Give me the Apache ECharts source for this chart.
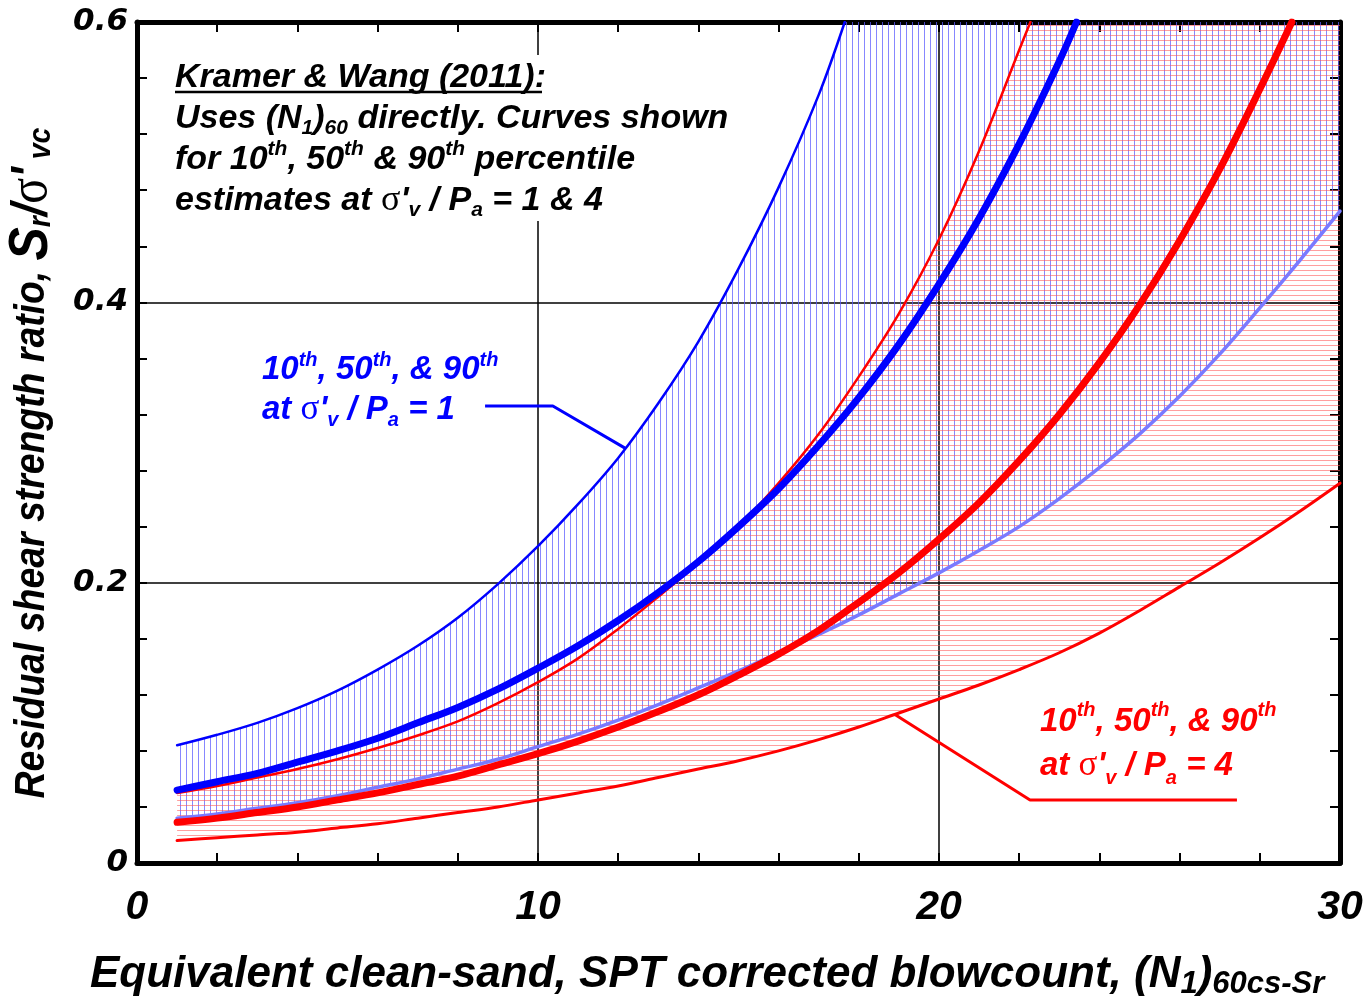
<!DOCTYPE html>
<html>
<head>
<meta charset="utf-8">
<script src="https://cdn.jsdelivr.net/npm/echarts@6/dist/echarts.min.js"></script>
<style>html,body{margin:0;padding:0;background:#fff}#c{width:1366px;height:1003px}</style>
</head>
<body>
<div id="c"></div>
<script>
// ---- data ----
const xTickLabels = [0, 10, 20, 30];
const yTickLabels = [0, 0.2, 0.4, 0.6];
// sigma'v/Pa = 1 (blue)
const blue90 = [[1,.084],[2,.0915],[3,.100],[4,.1105],[5,.123],[6,.138],[7,.155],[8,.175],[9,.199],[10,.226],[11,.256],[12,.289],[13,.328],[14,.372],[15,.424],[16,.482],[17,.548],[17.65,.6]];
const blue50 = [[1,.052],[2,.058],[3,.064],[4,.072],[5,.080],[6,.089],[7,.100],[8,.111],[9,.124],[10,.139],[11,.155],[12,.173],[13,.193],[14,.215],[15,.240],[16,.267],[17,.298],[18,.332],[19,.370],[20,.413],[21,.460],[22,.513],[23,.572],[23.43,.6]];
const blue10 = [[1,.032],[2,.035],[3,.039],[4,.043],[5,.048],[6,.054],[7,.060],[8,.067],[9,.074],[10,.083],[11,.092],[12,.102],[13,.113],[14,.125],[15,.137],[16,.150],[17,.163],[18,.177],[19,.192],[20,.207],[21,.223],[22,.240],[23,.260],[24,.282],[25,.306],[26,.333],[27,.363],[28,.396],[29,.430],[30,.465]];
// sigma'v/Pa = 4 (red)
const red90 = [[1,.050],[2,.055],[3,.061],[4,.067],[5,.074],[6,.082],[7,.091],[8,.101],[9,.114],[10,.129],[11,.146],[12,.167],[13,.190],[14,.214],[15,.240],[16,.271],[17,.306],[18,.347],[19,.392],[20,.445],[21,.508],[22,.580],[22.28,.6]];
const red50 = [[1,.029],[2,.032],[3,.036],[4,.040],[5,.045],[6,.050],[7,.056],[8,.062],[9,.070],[10,.078],[11,.087],[12,.097],[13,.108],[14,.120],[15,.134],[16,.149],[17,.166],[18,.186],[19,.207],[20,.231],[21,.257],[22,.287],[23,.320],[24,.357],[25,.398],[26,.444],[27,.495],[28,.552],[28.8,.6]];
const red10 = [[1,.016],[2,.018],[3,.020],[4,.022],[5,.025],[6,.028],[7,.032],[8,.036],[9,.040],[10,.045],[11,.050],[12,.055],[13,.061],[14,.067],[15,.073],[16,.080],[17,.088],[18,.097],[19,.107],[20,.117],[21,.127],[22,.138],[23,.150],[24,.164],[25,.180],[26,.197],[27,.214],[28,.232],[29,.251],[30,.271]];
// label leader lines (data coordinates)
const blueLeader = [[8.68,.326],[10.37,.326],[12.17,.296]];
const redLeader = [[27.43,.045],[22.27,.045],[18.9,.106]];

const X_MAX = 30, Y_MAX = 0.6;

// ---- helpers ----
function hatchCanvas(w, h, vertical, color) {
  const c = document.createElement('canvas');
  c.width = w; c.height = h;
  const g = c.getContext('2d');
  g.fillStyle = color;
  if (vertical) g.fillRect(0, 0, 1, h); else g.fillRect(0, 0, w, 1);
  return c;
}
const bluePattern = { image: hatchCanvas(6, 6, true, 'rgba(95,95,255,0.75)'), repeat: 'repeat' };
const redPattern = { image: hatchCanvas(6, 5, false, 'rgba(255,90,90,0.58)'), repeat: 'repeat' };

function band(upper, lower) {
  const pts = upper.slice();
  const last = upper[upper.length - 1];
  if (last[1] >= Y_MAX) pts.push([X_MAX, Y_MAX]);
  return pts.concat(lower.slice().reverse());
}
function bandSeries(upper, lower, pattern) {
  const poly = band(upper, lower);
  return {
    type: 'custom', coordinateSystem: 'cartesian2d', silent: true, z: 1,
    data: [[0, 0]],
    renderItem: function (params, api) {
      return { type: 'polygon', shape: { points: poly.map(p => api.coord(p)) }, style: { fill: pattern, stroke: null } };
    }
  };
}
function curve(data, color, width, z) {
  return { type: 'line', data: data, smooth: 0.35, symbol: 'none', silent: true, z: z,
    lineStyle: { color: color, width: width, cap: 'round', join: 'round' } };
}
function leader(data, color) {
  return { type: 'line', data: data, smooth: false, symbol: 'none', silent: true, z: 6,
    lineStyle: { color: color, width: 3 } };
}
const near = (v, arr) => arr.find(t => Math.abs(t - v) < 1e-6);

const frameLine = { show: true, onZero: false, lineStyle: { color: '#000', width: 5 } };
const tick = { show: true, inside: true, length: 10, lineStyle: { color: '#000', width: 2 } };

const FONT = 'Liberation Sans';
function tok(fs, lh, color, extra) {
  return Object.assign({ fontFamily: FONT, fontWeight: 'bold', fontStyle: 'italic', fontSize: fs, lineHeight: lh, fill: color }, extra || {});
}
function rich(color, fs, lh) {
  const small = Math.round(fs * 0.62);
  return {
    n: tok(fs, lh, color),
    sup: tok(small, 24, color, { verticalAlign: 'top' }),
    sub: tok(small, 20, color, { verticalAlign: 'bottom' }),
    sg: { fontFamily: 'Liberation Serif', fontSize: fs + 2, lineHeight: lh, fill: color }
  };
}

const chart = echarts.init(document.getElementById('c'), null, { renderer: 'canvas' });
const option = {
  animation: false,
  backgroundColor: '#fff',
  grid: { left: 137, right: 26, top: 22, bottom: 140, containLabel: false },
  xAxis: [
    { type: 'value', min: 0, max: X_MAX, interval: 2, position: 'bottom',
      axisLine: frameLine, axisTick: tick, splitLine: { show: false },
      axisLabel: { margin: 24, color: '#000', fontFamily: FONT, fontWeight: 'bold', fontStyle: 'italic', fontSize: 41,
        formatter: v => (near(v, xTickLabels) !== undefined ? String(v) : '') } },
    { type: 'value', min: 0, max: X_MAX, interval: 2, position: 'top',
      axisLine: frameLine, axisTick: tick, splitLine: { show: false }, axisLabel: { show: false } },
    { type: 'value', min: 0, max: X_MAX, interval: 10, position: 'bottom',
      axisLine: { show: false }, axisTick: { show: false }, axisLabel: { show: false },
      splitLine: { show: true, lineStyle: { color: '#000', width: 1.5 } } }
  ],
  yAxis: [
    { type: 'value', min: 0, max: Y_MAX, interval: 0.04, position: 'left',
      axisLine: frameLine, axisTick: tick, splitLine: { show: false },
      axisLabel: { margin: 9, color: '#000', fontFamily: 'DejaVu Sans', fontWeight: 'bold', fontStyle: 'italic', fontSize: 31,
        formatter: v => { const t = near(v, yTickLabels); return t === undefined ? '' : (t === 0 ? '0' : t.toFixed(1)); } } },
    { type: 'value', min: 0, max: Y_MAX, interval: 0.04, position: 'right',
      axisLine: frameLine, axisTick: tick, splitLine: { show: false }, axisLabel: { show: false } },
    { type: 'value', min: 0, max: Y_MAX, interval: 0.2, position: 'left',
      axisLine: { show: false }, axisTick: { show: false }, axisLabel: { show: false },
      splitLine: { show: true, lineStyle: { color: '#000', width: 1.5 } } }
  ],
  series: [
    bandSeries(blue90, blue10, bluePattern),
    bandSeries(red90, red10, redPattern),
    curve(blue10, '#7a7aff', 3.5, 3),
    curve(red10, '#ff0000', 3, 3),
    curve(red90, '#ff0000', 2.5, 3),
    curve(blue90, '#0000ff', 2.5, 3),
    curve(red50, '#ff0000', 7, 4),
    curve(blue50, '#0000ff', 7, 5),
    leader(blueLeader, '#0000ff'),
    leader(redLeader, '#ff0000')
  ],
  graphic: [
    { type: 'rect', z: 5, silent: true, shape: { x: 165, y: 55, width: 570, height: 166 }, style: { fill: '#fff' } },
    { type: 'text', z: 6, silent: true, x: 175, y: 57,
      style: { align: 'left', verticalAlign: 'top', rich: rich('#000', 34, 41),
        text: '{n|Kramer & Wang (2011):}\n' +
              '{n|Uses (N}{sub|1}{n|)}{sub|60}{n| directly. Curves shown}\n' +
              '{n|for 10}{sup|th}{n|, 50}{sup|th}{n| & 90}{sup|th}{n| percentile}\n' +
              '{n|estimates at }{sg|σ}{n|\'}{sub|v}{n| / P}{sub|a}{n| = 1 & 4}' } },
    { type: 'line', z: 6, silent: true, shape: { x1: 175, y1: 92, x2: 542, y2: 92 }, style: { stroke: '#000', lineWidth: 2.5 } },
    { type: 'text', z: 6, silent: true, x: 262, y: 350,
      style: { align: 'left', verticalAlign: 'top', rich: rich('#0000ff', 33, 40),
        text: '{n|10}{sup|th}{n|, 50}{sup|th}{n|, & 90}{sup|th}\n{n|at }{sg|σ}{n|\'}{sub|v}{n| / P}{sub|a}{n| = 1}' } },
    { type: 'text', z: 6, silent: true, x: 1040, y: 700,
      style: { align: 'left', verticalAlign: 'top', rich: rich('#ff0000', 33, 44),
        text: '{n|10}{sup|th}{n|, 50}{sup|th}{n|, & 90}{sup|th}\n{n|at }{sg|σ}{n|\'}{sub|v}{n| / P}{sub|a}{n| = 4}' } },
    { type: 'text', z: 6, silent: true, x: 90, y: 975,
      style: { align: 'left', verticalAlign: 'middle',
        rich: {
          m: tok(44, 50, '#000'),
          s: tok(31, 20, '#000', { verticalAlign: 'bottom' })
        },
        text: '{m|Equivalent clean-sand, SPT corrected blowcount, (N}{s|1}{m|)}{s|60cs-Sr}' } },
    { type: 'text', z: 6, silent: true, x: 32, y: 463, rotation: Math.PI / 2, scaleX: 0.89, scaleY: 1,
      style: { align: 'center', verticalAlign: 'middle',
        rich: {
          m: tok(42, 50, '#000'),
          S: tok(56, 50, '#000'),
          sl: tok(50, 50, '#000'),
          s: tok(32, 20, '#000', { verticalAlign: 'bottom' }),
          sg: { fontFamily: 'Liberation Serif', fontSize: 54, lineHeight: 50, fill: '#000' }
        },
        text: '{m|Residual shear strength ratio, }{S|S}{s|r}{sl|/}{sg|σ}{sl|\'}{s| vc}' } }
  ]
};
chart.setOption(option);
</script>
</body>
</html>
